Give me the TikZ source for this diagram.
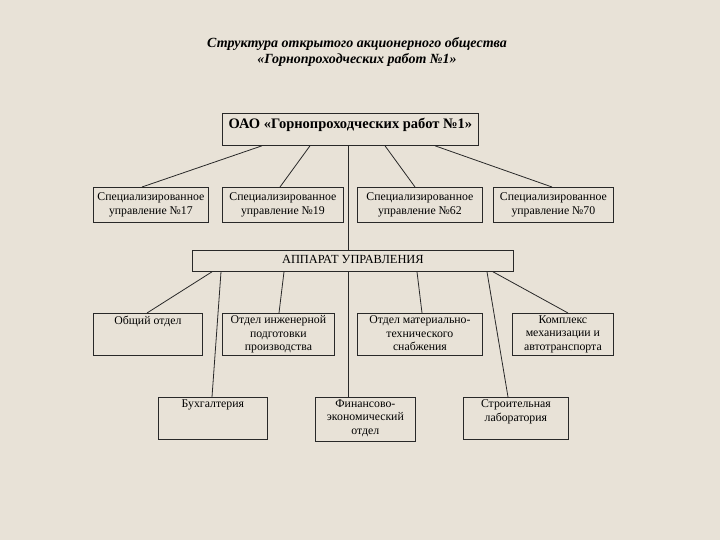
\documentclass[tikz,border=0pt]{standalone}
\usepackage{fontspec}
\setmainfont{Liberation Serif}
\usetikzlibrary{calc}
\definecolor{bgc}{RGB}{232,226,215}
\definecolor{lnc}{RGB}{40,40,40}
\tikzset{
  box/.style={draw=lnc, line width=0.8pt, fill=bgc, anchor=north west, inner sep=0pt, font=\fontsize{11.8}{13.3}\selectfont},
  conn/.style={draw=lnc, line width=0.8pt}
}
\newcommand\bxt[3]{\parbox[c][#2pt][t]{#1pt}{\centering\vspace{2.5pt}#3}}
\begin{document}
\begin{tikzpicture}[x=1pt,y=-1pt]
\fill[bgc] (0,0) rectangle (720,540);
\useasboundingbox (0,0) rectangle (720,540);

\node[font=\fontsize{14}{16}\selectfont\bfseries\itshape, align=center] (title) at (357,51.5)
  {Структура открытого акционерного общества\\«Горнопроходческих работ №1»};

\node[box, font=\fontsize{14.5}{16}\selectfont\bfseries] (top) at (222,113) {\parbox[c][32pt][t]{256pt}{\centering\vspace{5pt}ОАО «Горнопроходческих работ №1»}};

\node[box] (s1) at (93,187) {\parbox[c][35pt][c]{115pt}{\centering Специализированное\\управление №17}};
\node[box] (s2) at (222,187) {\parbox[c][35pt][c]{121pt}{\centering Специализированное\\управление №19}};
\node[box] (s3) at (357,187) {\parbox[c][35pt][c]{125pt}{\centering Специализированное\\управление №62}};
\node[box] (s4) at (493,187) {\parbox[c][35pt][c]{120pt}{\centering Специализированное\\управление №70}};

\node[box, font=\fontsize{12.4}{14}\selectfont] (app) at (192,250) {\parbox[c][21pt][c]{321pt}{\centering\vspace{-2pt}АППАРАТ УПРАВЛЕНИЯ}};

\node[box] (r1) at (93,313) {\bxt{109}{42}{Общий отдел}};
\node[box] (r2) at (222,313) {\bxt{112}{42}{Отдел инженерной\\подготовки\\производства}};
\node[box] (r3) at (357,313) {\bxt{125}{42}{Отдел материально-\\технического\\снабжения}};
\node[box] (r4) at (512,313) {\bxt{101}{42}{Комплекс\\механизации и\\автотранспорта}};

\node[box] (b1) at (158,397) {\bxt{109}{42}{Бухгалтерия}};
\node[box] (b2) at (315,397) {\bxt{100}{44}{Финансово-\\экономический\\отдел}};
\node[box] (b3) at (463,397) {\bxt{105}{42}{Строительная\\лаборатория}};

% connectors
\draw[conn] ([xshift=40pt]top.south west) -- ([xshift=49pt]s1.north west);
\draw[conn] ([xshift=88pt]top.south west) -- ([xshift=58pt]s2.north west);
\draw[conn] ([xshift=163pt]top.south west) -- ([xshift=58pt]s3.north west);
\draw[conn] ([xshift=213pt]top.south west) -- ([xshift=59pt]s4.north west);
\draw[conn] ([xshift=126pt]top.south west) -- ([xshift=156pt]app.north west);
\draw[conn] ([xshift=156pt]app.south west) -- ([xshift=33pt]b2.north west);

\draw[conn] ([xshift=20pt]app.south west) -- ([xshift=54pt]r1.north west);
\draw[conn] ([xshift=29pt]app.south west) -- ([xshift=54pt]b1.north west);
\draw[conn] ([xshift=92pt]app.south west) -- ([xshift=57pt]r2.north west);
\draw[conn] ([xshift=225pt]app.south west) -- ([xshift=65pt]r3.north west);
\draw[conn] ([xshift=295pt]app.south west) -- ([xshift=45pt]b3.north west);
\draw[conn] ([xshift=301pt]app.south west) -- ([xshift=56pt]r4.north west);
\end{tikzpicture}
\end{document}
